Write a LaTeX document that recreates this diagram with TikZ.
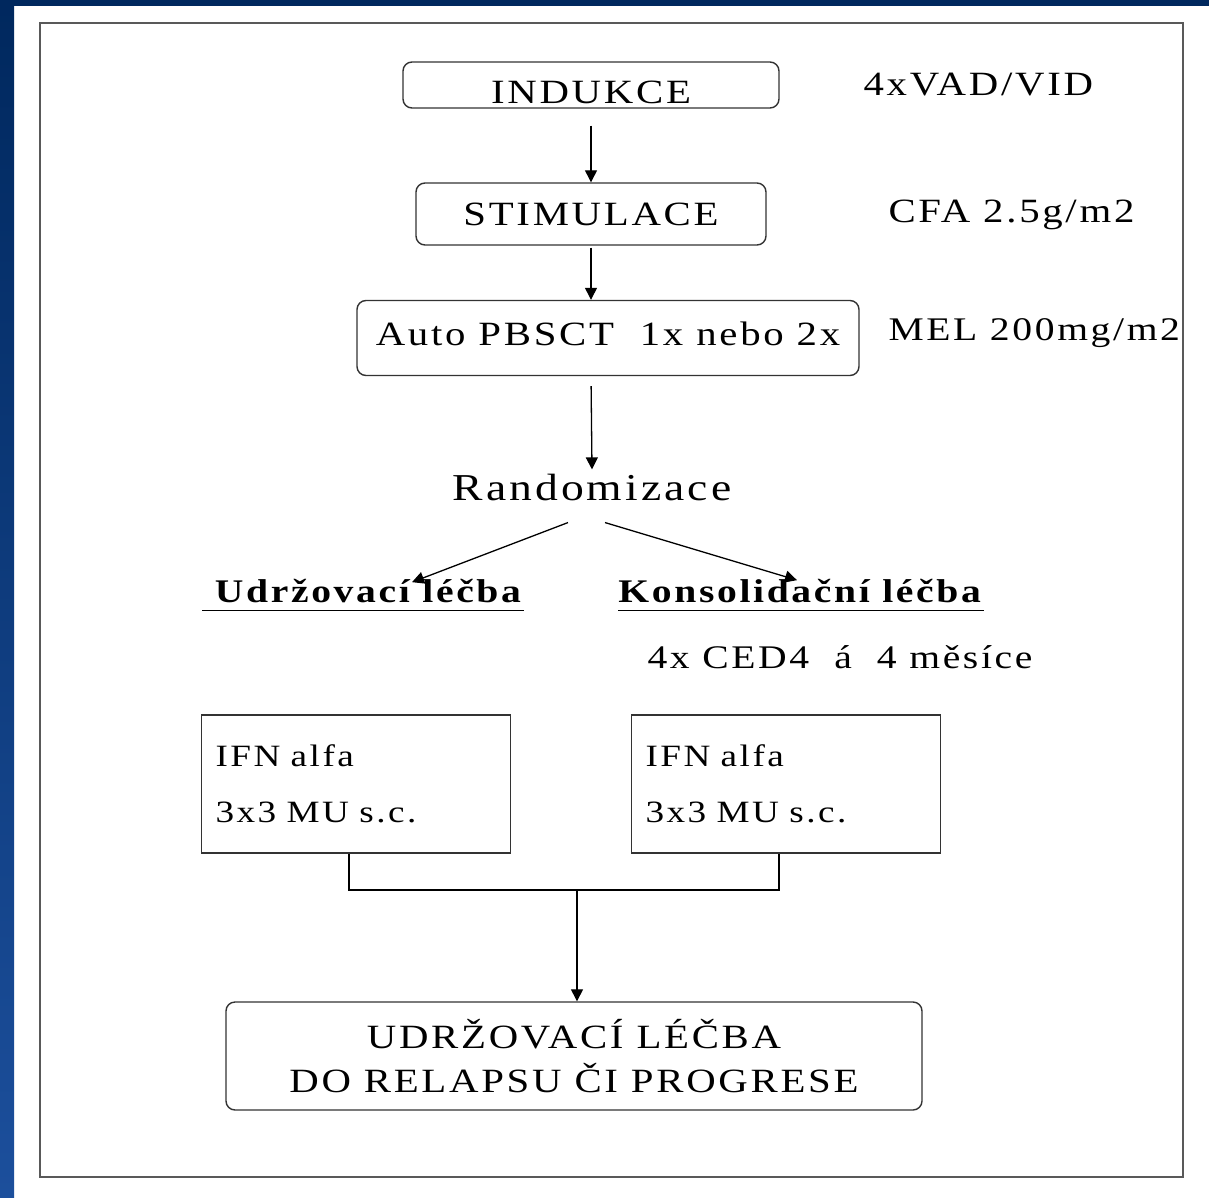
\documentclass[tikz,border=0pt]{standalone}
\usepackage{fontspec}
\setmainfont{Liberation Serif}[LetterSpace=8,FakeStretch=1.2]
\usetikzlibrary{arrows.meta,positioning,calc}

\definecolor{slidenavy}{HTML}{00285E}
\definecolor{slideblue}{HTML}{1C4F9C}
\newcommand\ulbf[1]{\underline{\rule[-6pt]{0pt}{6pt}\textbf{#1}}}

\begin{document}
\begin{tikzpicture}[x=1pt,y=-1pt,
    box/.style={draw=black!80,line width=1.4pt,inner sep=0pt},
    rbox/.style={box,rounded corners=9pt},
    flow/.style={line width=1.3pt,-{Triangle[length=12pt,width=12pt]}},
    big/.style={font=\fontsize{34}{44}\selectfont},
    lbl/.style={font=\fontsize{33}{44}\selectfont},
    mid/.style={font=\fontsize{31}{56}\selectfont}]
    % slide background and frame
    \fill[white] (0,0) rectangle (1209,1198);
    \shade[top color=slidenavy,bottom color=slideblue] (0,0) rectangle (14,1198);
    \fill[slidenavy] (0,0) rectangle (1209,6);
    \draw[black!65,line width=2pt] (40,23) rectangle (1183,1177);

    \node[rbox,big,minimum width=376pt,minimum height=46pt,text height=38pt,text depth=0pt] (indukce) at (591,85) {INDUKCE};
    \node[rbox,big,minimum width=350pt,minimum height=62pt,text height=24pt,text depth=0pt] (stim) at (591,214) {STIMULACE};
    \node[rbox,big,minimum width=502pt,minimum height=75pt,text height=14pt,text depth=0pt] (auto) at (608,338) {Auto PBSCT\ \ 1x nebo 2x};
    \node[big,anchor=west] (vad) at (860,85) {4xVAD/VID};
    \node[big,anchor=west] (cfa) at (885,215) {CFA 2.5g/m2};
    \node[lbl,anchor=west] (mel) at (885,333) {MEL 200mg/m2};

    \node[font=\fontsize{38}{44}\selectfont,inner sep=4pt] (rand) at (592,487) {Randomizace};
    \node[lbl,inner sep=2pt] (udr) at (363,595) {\ulbf{\ Udržovací léčba}};
    \node[lbl,inner sep=2pt] (kons) at (801,595) {\ulbf{Konsolidační léčba}};
    \node[lbl,anchor=west] (ced) at (644,657) {4x CED4\ \ á\ \ 4 měsíce};

    \node[box,mid,minimum width=309pt,minimum height=138pt,text width=281pt,align=left] (ifnl) at (356,784) {IFN alfa\\3x3 MU s.c.};
    \node[box,mid,minimum width=309pt,minimum height=138pt,text width=281pt,align=left] (ifnr) at (786,784) {IFN alfa\\3x3 MU s.c.};
    \node[rbox,big,minimum width=696pt,minimum height=108pt,align=center] (final) at (574,1056) {UDRŽOVACÍ LÉČBA\\DO RELAPSU ČI PROGRESE};
    \coordinate (join) at (577,890);

    \draw[flow,shorten <=17pt] (indukce.south) -- (stim.north);
    \draw[flow,shorten <=2pt] (stim.south) -- (stim.south |- auto.north);
    \draw[flow,shorten <=10pt] (stim.south |- auto.south) -- (rand.north);
    \draw[flow] ([shift={(-24pt,-18pt)}]rand.south) -- ([shift={(49pt,-5pt)}]udr.north);
    \draw[flow] ([shift={(13pt,-18pt)}]rand.south) -- ([shift={(-4pt,-3pt)}]kons.north);
    \draw[line width=1.3pt] ([xshift=-7pt]ifnl.south) |- (join) -| ([xshift=-7pt]ifnr.south);
    \draw[flow] (join) -- (join |- final.north);
\end{tikzpicture}
\end{document}
